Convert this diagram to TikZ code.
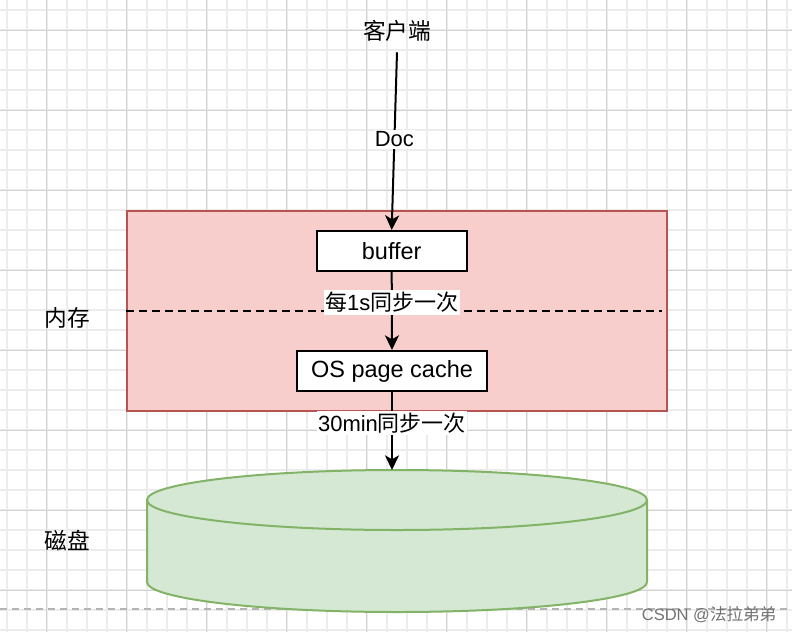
\documentclass[tikz,border=0pt]{standalone}
\usepackage{fontspec}
\setmainfont{Liberation Sans}
\newfontfamily\cjk{Noto Sans CJK SC}
\usetikzlibrary{arrows.meta}
\definecolor{memfill}{HTML}{F8CECC}
\definecolor{memdraw}{HTML}{B85450}
\definecolor{diskfill}{HTML}{D5E8D4}
\definecolor{diskdraw}{HTML}{82B366}
\definecolor{gridminor}{HTML}{ECECEC}
\definecolor{gridmajor}{HTML}{D2D2D2}
\definecolor{pagedash}{HTML}{B4B4B4}
\begin{document}
\begin{tikzpicture}[x=0.75pt,y=-0.75pt,
  txt/.style={font=\fontsize{17}{20}\selectfont, inner sep=0pt},
  lbl/.style={font=\fontsize{16.5}{20}\selectfont, fill=white, inner xsep=1pt, inner ysep=1.5pt},
  box/.style={draw=black, line width=1.5pt, fill=white, minimum height=30pt, inner sep=0pt, font=\fontsize{17.6}{20}\selectfont},
  conn/.style={line width=1.5pt, -{Stealth[length=11pt,width=10.5pt,inset=3pt]}},
  minorline/.style={gridminor, line width=1.5pt},
  majorline/.style={gridmajor, line width=0.75pt},
  dashline/.style={black, line width=1.5pt, dash pattern=on 6pt off 3.75pt},
  diskstyle/.style={draw=diskdraw, fill=diskfill, line width=1.5pt},
]
\useasboundingbox (0,0) rectangle (792,632);
\fill[white] (0,0) rectangle (792,632);
% grid
\foreach \i in {0,...,39} \draw[minorline] ({6.7+20*\i},0) -- ({6.7+20*\i},632);
\foreach \j in {0,...,31} \draw[minorline] (0,{10+20*\j}) -- (792,{10+20*\j});
\foreach \i in {0,...,9} \draw[majorline] ({46.7+80*\i},0) -- ({46.7+80*\i},632);
\foreach \j in {0,...,7} \draw[majorline] (0,{30+80*\j}) -- (792,{30+80*\j});
% page break line
\draw[pagedash, line width=1.5pt, dash pattern=on 5.5pt off 3.5pt] (0,609) -- (792,609);
% memory region
\node[draw=memdraw, fill=memfill, line width=1.5pt, minimum width=405pt, minimum height=150pt, inner sep=0pt] (mem) at (396.7,310.7) {};
\draw[dashline] (mem.west) -- ([xshift=-4pt]mem.east);
% disk cylinder
\path[diskstyle] (147,500) -- (147,582) arc[start angle=180, end angle=0, x radius=250, y radius=30] -- (647,500) arc[start angle=0, end angle=-180, x radius=250, y radius=30] -- cycle;
\draw[diskdraw, line width=1.5pt] (147,500) arc[start angle=180, end angle=0, x radius=250, y radius=30];
\coordinate (disktop) at (392,470);
% nodes
\node[txt, minimum height=31.5pt] (client) at (397,31) {\cjk 客户端};
\node[box, minimum width=112.5pt] (buffer) at (391.7,251) {buffer};
\node[box, minimum width=142.5pt] (cache) at (392,371) {OS page cache};
\node[txt] (memlabel) at (67.5,318) {\cjk 内存};
\node[txt] (disklabel) at (67,541) {\cjk 磁盘};
% connectors
\draw[conn] (client.south) -- node[lbl, pos=0.49] {Doc} (buffer.north);
\draw[conn] (buffer.south) -- node[lbl, pos=0.39] {{\cjk 每}1s{\cjk 同步一次}} (cache.north);
\draw[conn] (cache.south) -- node[lbl, pos=0.4] {30min{\cjk 同步一次}} (disktop);
% watermark
\node[font=\fontsize{12.4}{14}\selectfont, text=black!55, inner sep=0pt] (wm) at (709,615) {CSDN @{\cjk 法拉弟弟}};
\end{tikzpicture}
\end{document}
